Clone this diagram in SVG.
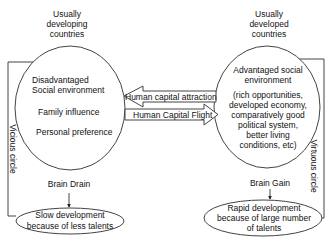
<svg xmlns="http://www.w3.org/2000/svg" width="330" height="246" viewBox="0 0 330 246">
<defs>
<marker id="ah" viewBox="0 0 6 6" refX="5" refY="3" markerWidth="4" markerHeight="4" orient="auto">
<path d="M0,0 L6,3 L0,6 z" fill="#222"/>
</marker>
<style>
text{font-family:"Liberation Sans",Arial,sans-serif;font-size:8.5px;fill:#111}
.c{text-anchor:middle}
.s{fill:none;stroke:#444;stroke-width:1}
.b{fill:#fff;stroke:#444;stroke-width:1}
</style>
</defs>
<rect width="330" height="246" fill="#fff"/>
<g id="label-developing">
<text class="c" x="67" y="17">Usually</text>
<text class="c" x="67" y="27">developing</text>
<text class="c" x="67" y="37">countries</text>
</g>
<g id="label-developed">
<text class="c" x="269" y="17">Usually</text>
<text class="c" x="269" y="27">developed</text>
<text class="c" x="269" y="37">countries</text>
</g>
<g id="connectors">
<polyline class="s" points="16,216 8,216 8,62 63,62 63,70" marker-end="url(#ah)"/>
<polyline class="s" points="322,218 324,218 324,59 271,59 271,64" marker-end="url(#ah)"/>
<line class="s" x1="69" y1="193" x2="69" y2="207" marker-end="url(#ah)"/>
<line class="s" x1="270" y1="189" x2="270" y2="199" marker-end="url(#ah)"/>
</g>
<g id="node-left">
<ellipse class="b" cx="70" cy="108" rx="55" ry="62"/>
<text x="32" y="83">Disadvantaged</text>
<text x="32" y="93">Social environment</text>
<text x="38" y="115">Family influence</text>
<text x="36" y="135">Personal preference</text>
</g>
<g id="node-right">
<ellipse class="b" cx="267" cy="107" rx="53" ry="61"/>
<text class="c" x="268" y="73">Advantaged social</text>
<text class="c" x="268" y="83">environment</text>
<text class="c" x="268" y="98">(rich opportunities,</text>
<text class="c" x="268" y="108">developed economy,</text>
<text class="c" x="268" y="118">comparatively good</text>
<text class="c" x="268" y="128">political system,</text>
<text class="c" x="268" y="138">better living</text>
<text class="c" x="268" y="148">conditions, etc)</text>
</g>
<g id="arrow-attraction">
<polygon class="b" points="124,96 143,86 143,91 216,91 216,102 143,102 143,107"/>
<text x="125" y="99.5">Human capital attraction</text>
</g>
<g id="arrow-flight">
<polygon class="b" points="125,109 204,109 204,104 218,114.5 204,125 204,120 125,120"/>
<text x="133" y="118">Human Capital Flight</text>
</g>
<g id="label-vicious">
<text class="c" transform="translate(10,149) rotate(90)">Vicious circle</text>
</g>
<g id="label-virtuous">
<text class="c" transform="translate(311,166) rotate(90)">Virtuous circle</text>
</g>
<g id="label-drain"><text class="c" x="69" y="187">Brain Drain</text></g>
<g id="label-gain"><text class="c" x="270" y="186">Brain Gain</text></g>
<g id="node-slow">
<ellipse class="b" cx="70" cy="221" rx="54" ry="13"/>
<text class="c" x="70" y="218">Slow development</text>
<text class="c" x="70" y="229">because of less talents</text>
</g>
<g id="node-rapid">
<ellipse class="b" cx="263" cy="218" rx="59" ry="18"/>
<text class="c" x="264" y="211">Rapid development</text>
<text class="c" x="264" y="221">because of large number</text>
<text class="c" x="264" y="231">of talents</text>
</g>
</svg>
